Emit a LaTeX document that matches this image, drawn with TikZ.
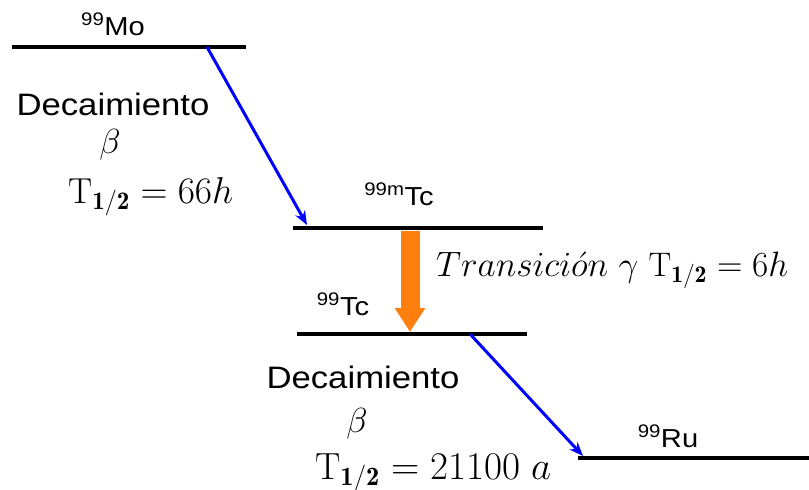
\documentclass[tikz,border=0pt]{standalone}
\usepackage{fontspec}
\newfontfamily\arialf[FakeStretch=1.12]{Liberation Sans}
\usetikzlibrary{arrows.meta}
\definecolor{gorange}{RGB}{255,127,14}
\begin{document}
\begin{tikzpicture}[x=1pt,y=-1pt,
  level/.style={line width=4.5pt,black},
  betaarrow/.style={blue,line width=3pt,-{Stealth[length=14pt,width=11pt]}},
  gammaarrow/.style={gorange,line width=19pt,-{Triangle[length=24pt,width=29pt]}},
  lab/.style={font=\arialf\fontsize{26}{30}\selectfont,inner sep=0pt,anchor=base},
  dlab/.style={font=\arialf\fontsize{31}{36}\selectfont,inner sep=0pt,anchor=base},
  mlab/.style={font=\fontsize{24}{28}\selectfont,inner sep=0pt,anchor=base}]
\useasboundingbox (0,0) rectangle (809,490);
% levels
\coordinate (moL) at (12,47);   \coordinate (moR) at (246,47);
\coordinate (tcmL) at (293,228); \coordinate (tcmR) at (543,228);
\coordinate (tcL) at (297,334);  \coordinate (tcR) at (527,334);
\coordinate (ruL) at (578,458);  \coordinate (ruR) at (809,458);
\draw[level] (moL) -- (moR);
\draw[level] (tcmL) -- (tcmR);
\draw[level] (tcL) -- (tcR);
\draw[level] (ruL) -- (ruR);
% labels
\node[lab] (mo) at (113,35) {\textsuperscript{99}Mo};
\node[lab] (tcm) at (399,205) {\textsuperscript{99m}Tc};
\node[lab] (tc) at (343,315) {\textsuperscript{99}Tc};
\node[lab] (ru) at (668,447) {\textsuperscript{99}Ru};
\node[dlab] (dec1) at (113,115) {Decaimiento};
\node[mlab] (b1) at (110,153) {\scalebox{1.4}{$\beta$}};
\node[mlab,anchor=base west] (t1) at (68,203) {\resizebox{165pt}{!}{$\mathrm{T}_{\mathbf{1/2}}=66h$}};
\node[dlab] (dec2) at (363,388) {Decaimiento};
\node[mlab] (b2) at (357,432) {\scalebox{1.4}{$\beta$}};
\node[mlab,anchor=base west] (t2) at (315,479) {\resizebox{236pt}{!}{$\mathrm{T}_{\mathbf{1/2}}=21100\;a$}};
\node[mlab,anchor=base west] (gt) at (436,276) {\resizebox{352pt}{!}{$Transici\acute{o}n\ \gamma\ \mathrm{T}_{\mathbf{1/2}}=6h$}};
% arrows
\coordinate (a1s) at (207,47);  \coordinate (a1e) at (307,225);
\coordinate (gs) at (410,231);  \coordinate (ge) at (410,332);
\coordinate (a2s) at (470,334); \coordinate (a2e) at (583,456);
\draw[betaarrow] (a1s) -- (a1e);
\draw[gammaarrow] (gs) -- (ge);
\draw[betaarrow] (a2s) -- (a2e);
\end{tikzpicture}
\end{document}
